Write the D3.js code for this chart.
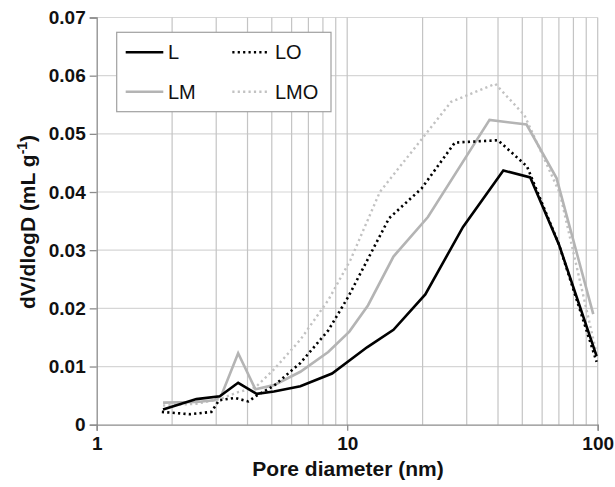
<!DOCTYPE html>
<html>
<head>
<meta charset="utf-8">
<script src="https://cdn.jsdelivr.net/npm/d3@7/dist/d3.min.js"></script>
<style>
  html, body { margin: 0; padding: 0; background: #fff; }
  svg { display: block; font-family: "Liberation Sans", Arial, sans-serif; }
</style>
</head>
<body>
<svg id="chart" width="615" height="487"></svg>
<script>
// ---- Data ----
const seriesNames = ["L", "LM", "LO", "LMO"];

const xL   = [1.84, 2.5, 3.1, 3.67, 4.35, 5.1, 6.5, 8.7, 12, 15.3, 20.5, 29, 42, 53.8, 70, 99];
const yL   = [0.0026, 0.0044, 0.0049, 0.0072, 0.0053, 0.0057, 0.0066, 0.0088, 0.0133, 0.0163, 0.0224, 0.034, 0.0437, 0.0425, 0.031, 0.0118];

const xLM  = [1.84, 2.5, 2.95, 3.15, 3.67, 4.3, 5.1, 6.5, 8.4, 10.2, 12.1, 15.3, 21, 37, 52, 68.5, 96];
const yLM  = [0.0038, 0.0039, 0.0042, 0.0051, 0.0123, 0.0061, 0.0068, 0.0091, 0.0125, 0.016, 0.0205, 0.0289, 0.0357, 0.0524, 0.0516, 0.0424, 0.019];

const xLO  = [1.82, 2.36, 2.87, 3.08, 3.56, 4.03, 4.35, 5.1, 6.5, 8.4, 10.1, 14.7, 19.8, 26.9, 40, 52.2, 70, 99];
const yLO  = [0.0022, 0.0018, 0.0022, 0.0042, 0.0046, 0.0040, 0.0050, 0.0067, 0.0106, 0.0162, 0.022, 0.0355, 0.0406, 0.0485, 0.0489, 0.0444, 0.031, 0.0108];

const xLMO = [1.84, 2.5, 3.1, 3.67, 4.3, 5.1, 6.5, 8.4, 10.3, 13.5, 26, 39, 51, 70.6, 99];
const yLMO = [0.0033, 0.0036, 0.0044, 0.0056, 0.0064, 0.0095, 0.0146, 0.0214, 0.0283, 0.040, 0.0555, 0.0586, 0.0532, 0.0398, 0.0122];

const xTickLabels = [1, 10, 100];
const yTickValues = [0, 0.01, 0.02, 0.03, 0.04, 0.05, 0.06, 0.07];
const xTitle = "Pore diameter (nm)";

// ---- Layout ----
const svg = d3.select("#chart");
const mLeft = 96.7, mRight = 597.7, mTop = 17.5, mBottom = 424.7;

const x = d3.scaleLog().domain([1, 100]).range([mLeft, mRight]);
const y = d3.scaleLinear().domain([0, 0.07]).range([mBottom, mTop]);

// gridlines
const minorX = [];
for (let d = 1; d <= 10; d *= 10) for (let k = 2; k <= 10; k++) minorX.push(k * d);

svg.append("g").selectAll("line").data(yTickValues.filter(v => v > 0)).join("line")
  .attr("x1", mLeft).attr("x2", mRight)
  .attr("y1", d => y(d)).attr("y2", d => y(d))
  .attr("stroke", "#d6d6d6").attr("stroke-width", 1.2);

svg.append("g").selectAll("line").data(minorX).join("line")
  .attr("x1", d => x(d)).attr("x2", d => x(d))
  .attr("y1", mTop).attr("y2", mBottom)
  .attr("stroke", "#c4c4c4").attr("stroke-width", 1.2);

// axes
const yAxis = d3.axisLeft(y).tickValues(yTickValues).tickSize(7).tickPadding(4)
  .tickFormat(d => d === 0 ? "0" : d3.format(".2f")(d));
const gy = svg.append("g").attr("transform", `translate(${mLeft},0)`).call(yAxis);
gy.select(".domain").attr("stroke", "#8c8c8c").attr("stroke-width", 1.3);
gy.selectAll(".tick line").attr("stroke", "#8c8c8c").attr("stroke-width", 1.3);
gy.selectAll(".tick text").attr("font-family", "Liberation Sans, Arial, sans-serif")
  .attr("font-size", 19).attr("font-weight", "bold").attr("fill", "#111");

const xAxis = d3.axisBottom(x).tickValues(xTickLabels).tickSize(6).tickPadding(6)
  .tickFormat(d3.format("d"));
const gx = svg.append("g").attr("transform", `translate(0,${mBottom})`).call(xAxis);
gx.select(".domain").attr("stroke", "#8c8c8c").attr("stroke-width", 1.3);
gx.selectAll(".tick line").attr("stroke", "#8c8c8c").attr("stroke-width", 1.3);
gx.selectAll(".tick text").attr("font-family", "Liberation Sans, Arial, sans-serif")
  .attr("font-size", 19).attr("font-weight", "bold").attr("fill", "#111");

// series
const line = d3.line().x(d => x(d[0])).y(d => y(d[1]));
const zip = (a, b) => a.map((v, i) => [v, b[i]]);
const styles = {
  L:   { color: "#000000", dash: null, width: 2.6 },
  LM:  { color: "#b4b4b4", dash: null, width: 2.6 },
  LO:  { color: "#000000", dash: "2.2,3.2", width: 2.6 },
  LMO: { color: "#c2c2c2", dash: "2.2,3.2", width: 2.4 }
};
const data = {
  L: zip(xL, yL), LM: zip(xLM, yLM), LO: zip(xLO, yLO), LMO: zip(xLMO, yLMO)
};
["LMO", "LM", "LO", "L"].forEach(name => {
  const s = styles[name];
  svg.append("path").datum(data[name])
    .attr("d", line)
    .attr("fill", "none")
    .attr("stroke", s.color)
    .attr("stroke-width", s.width)
    .attr("stroke-linejoin", "miter")
    .attr("stroke-dasharray", s.dash);
});

// legend
const lg = svg.append("g");
lg.append("rect").attr("x", 116.7).attr("y", 32.3).attr("width", 214.3).attr("height", 79.4)
  .attr("fill", "#fff").attr("stroke", "#a0a0a0").attr("stroke-width", 1.2);
const legendPos = [
  { name: "L", lx: 125.7, ly: 52.3, tx: 168 },
  { name: "LO", lx: 232.3, ly: 52.3, tx: 275 },
  { name: "LM", lx: 125.7, ly: 91.7, tx: 168 },
  { name: "LMO", lx: 232.3, ly: 91.7, tx: 275 }
];
legendPos.forEach(p => {
  const s = styles[p.name];
  lg.append("line").attr("x1", p.lx).attr("x2", p.lx + 37.6)
    .attr("y1", p.ly).attr("y2", p.ly)
    .attr("stroke", s.color).attr("stroke-width", s.width)
    .attr("stroke-dasharray", s.dash);
  lg.append("text").attr("x", p.tx).attr("y", p.ly + 7)
    .attr("font-size", 20).attr("fill", "#111").text(p.name);
});

// axis titles
svg.append("text").attr("x", 348).attr("y", 476).attr("text-anchor", "middle")
  .attr("font-size", 21).attr("font-weight", "bold").attr("fill", "#111").text(xTitle);

const yt = svg.append("text")
  .attr("transform", "translate(35,222) rotate(-90)")
  .attr("text-anchor", "middle")
  .attr("font-size", 21).attr("font-weight", "bold").attr("fill", "#111");
yt.append("tspan").text("dV/dlogD (mL g");
yt.append("tspan").attr("dy", -8).attr("font-size", 14).text("-1");
yt.append("tspan").attr("dy", 8).text(")");
</script>
</body>
</html>
